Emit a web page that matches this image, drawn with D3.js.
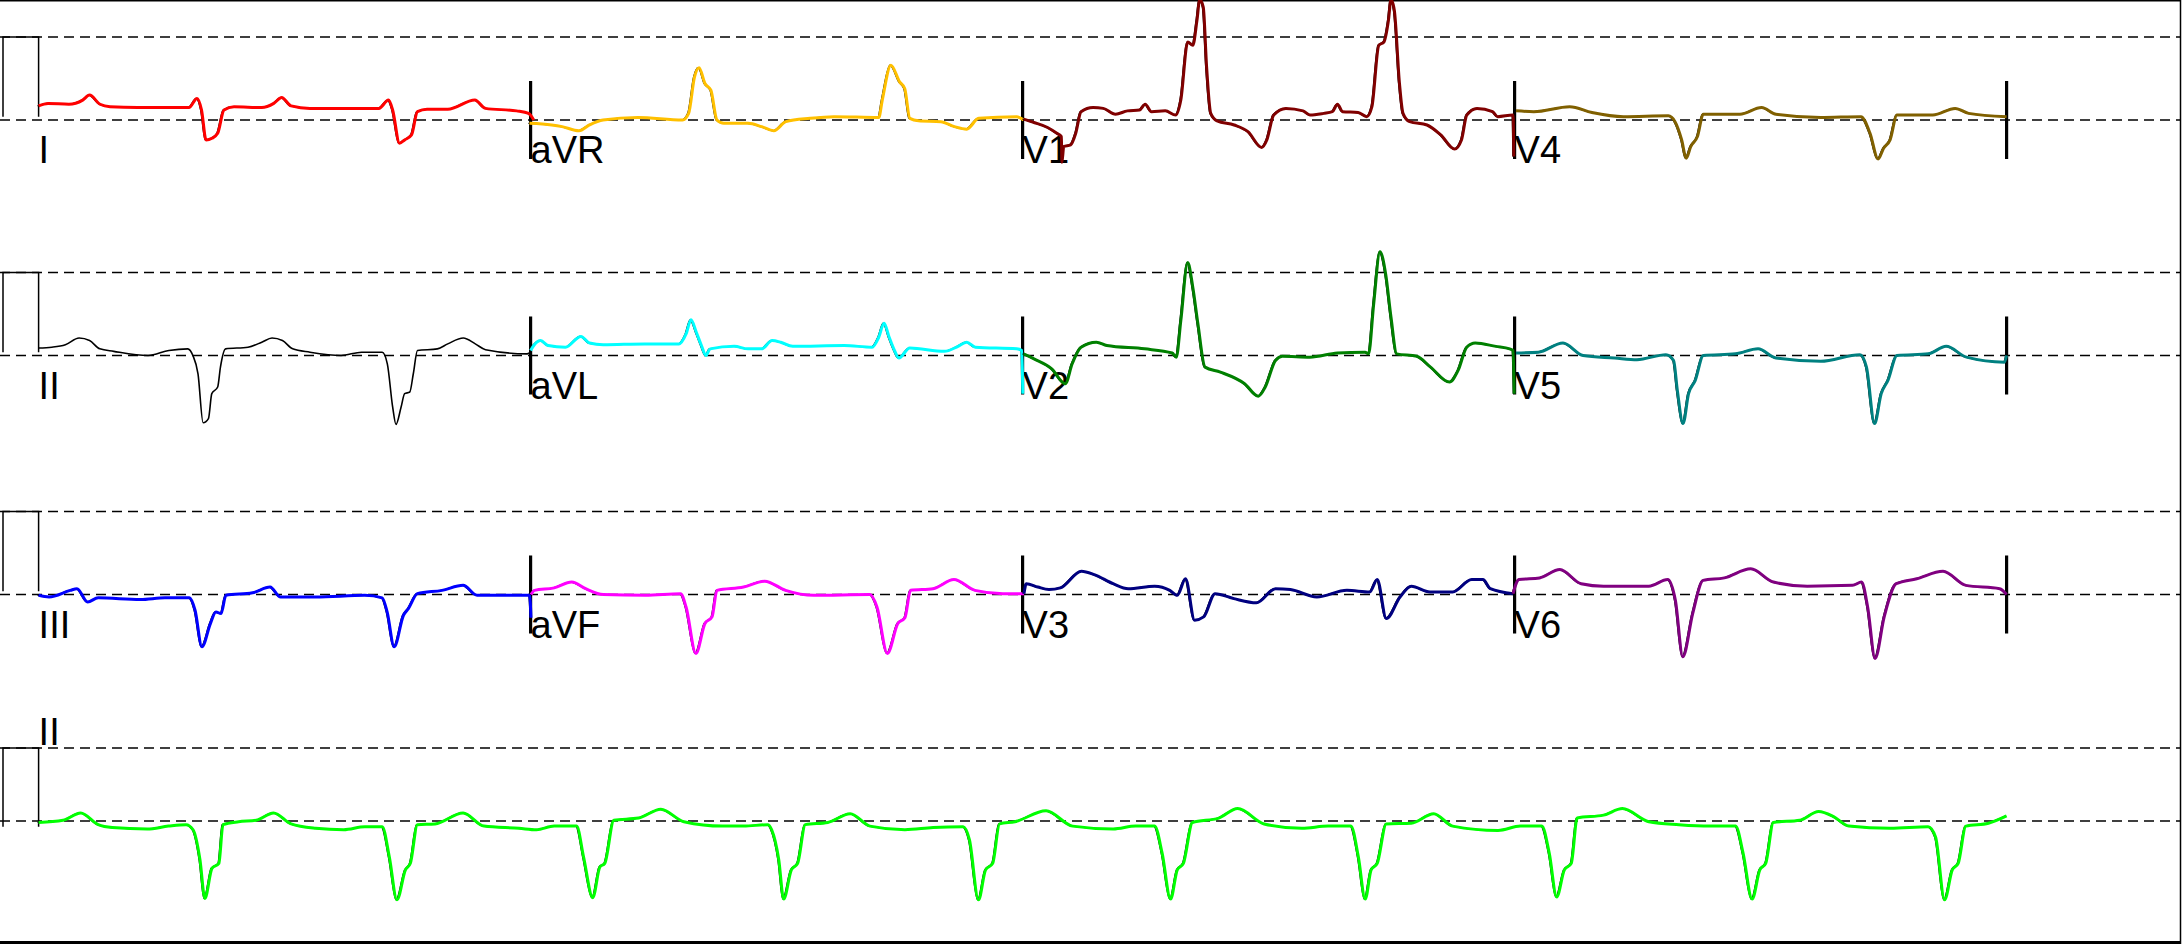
<!DOCTYPE html>
<html>
<head>
<meta charset="utf-8">
<script src="https://cdn.jsdelivr.net/npm/d3@7"></script>
<style>
  html, body { margin: 0; padding: 0; background: #fff; }
  svg { display: block; }
</style>
</head>
<body>
<svg id="chart" width="2183" height="944"></svg>
<script>
// lead layout: three rows of four 2.5 s segments, then a 10 s rhythm strip
const rowLeads = [
  ["I", "aVR", "V1", "V4"],
  ["II", "aVL", "V2", "V5"],
  ["III", "aVF", "V3", "V6"]
];
const rhythmLead = "II";

// traces as [time (s), amplitude (mV)]
const leadI = [[0,0.17],[0.048,0.2],[0.154,0.19],[0.224,0.24],[0.259,0.3],[0.312,0.19],[0.363,0.16],[0.504,0.15],[0.764,0.15],[0.805,0.26],[0.828,0.12],[0.851,-0.24],[0.881,-0.22],[0.910,-0.16],[0.942,0.12],[0.993,0.16],[1.134,0.15],[1.195,0.2],[1.235,0.27],[1.283,0.17],[1.379,0.14],[1.729,0.14],[1.778,0.24],[1.799,0.12],[1.834,-0.28],[1.860,-0.24],[1.895,-0.18],[1.925,0.1],[1.974,0.13],[2.079,0.13],[2.217,0.24],[2.271,0.14],[2.429,0.11],[2.490,0.08],[2.516,0.0]];
const leadAVR = [[2.494,-0.04],[2.607,-0.06],[2.660,-0.08],[2.746,-0.13],[2.799,-0.06],[2.868,0],[3.045,0.03],[3.272,0],[3.303,0.08],[3.333,0.52],[3.356,0.63],[3.386,0.44],[3.416,0.36],[3.447,0],[3.482,-0.04],[3.605,-0.04],[3.674,-0.08],[3.736,-0.13],[3.797,-0.02],[3.920,0.02],[4.042,0.04],[4.269,0.03],[4.287,0.24],[4.331,0.66],[4.375,0.46],[4.401,0.38],[4.427,0.02],[4.471,-0.01],[4.584,-0.02],[4.654,-0.08],[4.716,-0.11],[4.777,0.02],[4.970,0.04],[5.005,0]];
const leadV1 = [[5.005,0.01],[5.058,-0.03],[5.127,-0.09],[5.174,-0.16],[5.197,-0.2],[5.200,-0.51],[5.209,-0.32],[5.244,-0.3],[5.270,-0.16],[5.297,0.1],[5.358,0.15],[5.410,0.14],[5.472,0.07],[5.533,0.11],[5.594,0.12],[5.623,0.19],[5.655,0.1],[5.725,0.11],[5.778,0.06],[5.804,0.24],[5.839,0.94],[5.865,0.9],[5.886,1.2],[5.900,1.45],[5.918,1.36],[5.935,0.64],[5.956,0.08],[5.988,-0.01],[6.075,-0.06],[6.145,-0.14],[6.215,-0.33],[6.241,-0.24],[6.276,0.06],[6.338,0.14],[6.425,0.11],[6.460,0.06],[6.530,0.08],[6.574,0.1],[6.600,0.19],[6.626,0.1],[6.705,0.09],[6.749,0.04],[6.775,0.16],[6.810,0.9],[6.836,0.94],[6.859,1.2],[6.872,1.45],[6.889,1.32],[6.915,0.44],[6.933,0.08],[6.967,-0.02],[7.055,-0.06],[7.125,-0.18],[7.195,-0.35],[7.230,-0.24],[7.257,0.06],[7.309,0.14],[7.388,0.1],[7.414,0.04],[7.492,0.06],[7.496,-0.44]];
const leadV4 = [[7.507,0.11],[7.598,0.1],[7.780,0.16],[7.893,0.09],[8.053,0.04],[8.281,0.05],[8.315,-0.02],[8.349,-0.24],[8.372,-0.46],[8.395,-0.32],[8.429,-0.2],[8.459,0.07],[8.645,0.07],[8.755,0.15],[8.828,0.07],[9.055,0.03],[9.260,0.04],[9.306,-0.16],[9.347,-0.47],[9.375,-0.34],[9.408,-0.24],[9.443,0.06],[9.625,0.06],[9.739,0.14],[9.807,0.08],[10.0,0.04]];

const leadII = [[0,0.09],[0.067,0.1],[0.136,0.13],[0.206,0.21],[0.259,0.18],[0.311,0.08],[0.382,0.05],[0.556,0],[0.662,0.06],[0.758,0.08],[0.784,0],[0.810,-0.22],[0.836,-0.81],[0.863,-0.76],[0.880,-0.46],[0.910,-0.38],[0.924,-0.14],[0.950,0.08],[1.064,0.1],[1.134,0.16],[1.186,0.21],[1.239,0.18],[1.291,0.08],[1.379,0.04],[1.537,0],[1.641,0.04],[1.746,0.04],[1.772,-0.1],[1.799,-0.62],[1.816,-0.83],[1.842,-0.62],[1.860,-0.46],[1.886,-0.44],[1.904,-0.22],[1.925,0.06],[2.026,0.08],[2.079,0.14],[2.158,0.21],[2.219,0.14],[2.271,0.07],[2.482,0.02],[2.494,0.03]];
const leadAVL = [[2.500,0.06],[2.519,0.13],[2.551,0.18],[2.589,0.12],[2.677,0.1],[2.756,0.23],[2.799,0.15],[2.869,0.13],[3.079,0.14],[3.254,0.14],[3.290,0.26],[3.315,0.43],[3.342,0.28],[3.368,0.12],[3.391,0],[3.412,0.08],[3.535,0.11],[3.605,0.08],[3.674,0.08],[3.727,0.18],[3.771,0.16],[3.832,0.11],[4.094,0.12],[4.235,0.1],[4.269,0.22],[4.296,0.39],[4.322,0.22],[4.349,0.06],[4.371,-0.03],[4.427,0.09],[4.602,0.05],[4.672,0.11],[4.716,0.16],[4.760,0.1],[4.970,0.08],[4.996,0.06],[5.001,-0.46]];
const leadV2 = [[5.005,0.02],[5.058,-0.04],[5.148,-0.16],[5.217,-0.34],[5.252,-0.1],[5.297,0.1],[5.375,0.16],[5.428,0.12],[5.620,0.08],[5.760,0.03],[5.781,-0.02],[5.804,0.42],[5.839,1.12],[5.865,0.82],[5.891,0.38],[5.927,-0.14],[6.005,-0.2],[6.128,-0.34],[6.198,-0.49],[6.233,-0.38],[6.285,-0.06],[6.320,-0.01],[6.460,-0.02],[6.600,0.03],[6.740,0.04],[6.758,0.02],[6.784,0.62],[6.816,1.25],[6.845,0.98],[6.872,0.46],[6.901,0.02],[7.003,-0.01],[7.073,-0.14],[7.169,-0.32],[7.213,-0.18],[7.257,0.1],[7.300,0.15],[7.405,0.11],[7.475,0.08],[7.492,0.06],[7.498,-0.46]];
const leadV5 = [[7.507,0.03],[7.620,0.04],[7.746,0.15],[7.848,0],[8.008,-0.03],[8.122,-0.05],[8.269,0.01],[8.308,-0.06],[8.327,-0.42],[8.356,-0.82],[8.384,-0.46],[8.418,-0.3],[8.459,0],[8.622,0.02],[8.737,0.08],[8.828,-0.03],[9.055,-0.07],[9.255,0.01],[9.288,-0.14],[9.329,-0.82],[9.363,-0.46],[9.397,-0.3],[9.443,0],[9.602,0.02],[9.693,0.11],[9.796,-0.02],[9.989,-0.08],[10.0,0]];

const leadIII = [[0,-0.01],[0.053,-0.03],[0.161,0.05],[0.195,0.07],[0.249,-0.09],[0.303,-0.04],[0.517,-0.06],[0.642,-0.04],[0.766,-0.04],[0.795,-0.19],[0.830,-0.63],[0.873,-0.35],[0.901,-0.21],[0.927,-0.23],[0.952,-0.01],[1.087,0.02],[1.176,0.09],[1.230,-0.03],[1.408,-0.03],[1.658,-0.01],[1.746,-0.04],[1.771,-0.21],[1.807,-0.63],[1.854,-0.25],[1.879,-0.17],[1.925,0.01],[2.050,0.05],[2.157,0.11],[2.228,-0.01],[2.370,-0.01],[2.495,-0.01],[2.502,-0.28]];
const leadAVF = [[2.502,0.0],[2.520,0.05],[2.620,0.08],[2.709,0.15],[2.780,0.07],[2.869,0],[3.083,-0.01],[3.262,0.01],[3.290,-0.15],[3.340,-0.71],[3.386,-0.35],[3.422,-0.27],[3.447,0.05],[3.582,0.09],[3.689,0.16],[3.796,0.05],[3.939,-0.01],[4.224,0],[4.260,-0.15],[4.313,-0.71],[4.366,-0.35],[4.402,-0.28],[4.431,0.05],[4.545,0.07],[4.651,0.18],[4.758,0.05],[4.900,0.01],[5.007,0.01]];
const leadV3 = [[5.007,0.01],[5.019,0.13],[5.077,0.09],[5.134,0.06],[5.192,0.08],[5.299,0.28],[5.364,0.24],[5.460,0.13],[5.537,0.07],[5.671,0.1],[5.748,0.05],[5.786,-0.01],[5.828,0.19],[5.874,-0.31],[5.920,-0.27],[5.978,0.01],[6.074,-0.05],[6.188,-0.1],[6.285,0.07],[6.361,0.06],[6.495,-0.03],[6.648,0.05],[6.764,0.03],[6.802,0.18],[6.848,-0.29],[6.918,-0.03],[6.975,0.1],[7.070,0.03],[7.185,0.03],[7.282,0.18],[7.339,0.18],[7.377,0.07],[7.492,0.01]];
const leadV6 = [[7.492,0.01],[7.522,0.18],[7.627,0.2],[7.730,0.3],[7.838,0.13],[7.952,0.1],[8.182,0.1],[8.278,0.18],[8.317,-0.07],[8.355,-0.75],[8.405,-0.23],[8.458,0.17],[8.566,0.2],[8.700,0.31],[8.815,0.15],[8.987,0.1],[9.217,0.11],[9.263,0.15],[9.294,-0.15],[9.332,-0.77],[9.378,-0.27],[9.439,0.13],[9.543,0.19],[9.677,0.28],[9.793,0.11],[9.965,0.07],[10.0,0]];

const rhythmII = [[0,-0.02],[0.124,0.01],[0.214,0.11],[0.303,-0.05],[0.374,-0.09],[0.552,-0.11],[0.660,-0.07],[0.749,-0.05],[0.785,-0.12],[0.820,-0.53],[0.845,-1.06],[0.881,-0.65],[0.916,-0.58],[0.937,-0.05],[1.016,-0.01],[1.105,0.01],[1.194,0.11],[1.283,-0.04],[1.408,-0.1],[1.550,-0.12],[1.658,-0.08],[1.746,-0.08],[1.782,-0.49],[1.821,-1.08],[1.864,-0.67],[1.889,-0.58],[1.925,-0.05],[2.014,-0.04],[2.157,0.11],[2.263,-0.07],[2.441,-0.1],[2.530,-0.12],[2.620,-0.07],[2.734,-0.07],[2.769,-0.49],[2.816,-1.05],[2.852,-0.63],[2.877,-0.58],[2.923,0.01],[3.048,0.04],[3.162,0.16],[3.279,-0.01],[3.475,-0.07],[3.582,-0.07],[3.707,-0.05],[3.725,-0.12],[3.761,-0.53],[3.786,-1.07],[3.825,-0.67],[3.857,-0.58],[3.896,-0.05],[4.010,-0.02],[4.124,0.1],[4.224,-0.07],[4.402,-0.12],[4.545,-0.09],[4.698,-0.08],[4.730,-0.26],[4.776,-1.08],[4.812,-0.67],[4.848,-0.58],[4.883,-0.04],[4.961,-0.01],[5.119,0.14],[5.254,-0.07],[5.460,-0.11],[5.575,-0.07],[5.671,-0.07],[5.709,-0.44],[5.752,-1.07],[5.786,-0.67],[5.817,-0.58],[5.863,-0.02],[5.997,0.04],[6.093,0.17],[6.227,-0.04],[6.419,-0.1],[6.553,-0.07],[6.668,-0.07],[6.706,-0.49],[6.741,-1.07],[6.771,-0.67],[6.802,-0.58],[6.848,-0.04],[6.975,-0.03],[7.089,0.1],[7.185,-0.07],[7.416,-0.13],[7.530,-0.07],[7.638,-0.07],[7.676,-0.44],[7.714,-1.04],[7.753,-0.67],[7.788,-0.58],[7.818,0.04],[7.952,0.08],[8.048,0.17],[8.182,-0.01],[8.335,-0.05],[8.489,-0.07],[8.623,-0.07],[8.661,-0.44],[8.707,-1.07],[8.746,-0.67],[8.776,-0.58],[8.815,-0.02],[8.949,0.01],[9.045,0.13],[9.121,0.06],[9.198,-0.07],[9.409,-0.1],[9.601,-0.08],[9.639,-0.22],[9.685,-1.08],[9.724,-0.67],[9.754,-0.58],[9.793,-0.07],[9.908,-0.03],[10.0,0.07]];

const leadData = {
  I: leadI, aVR: leadAVR, V1: leadV1, V4: leadV4,
  II: leadII, aVL: leadAVL, V2: leadV2, V5: leadV5,
  III: leadIII, aVF: leadAVF, V3: leadV3, V6: leadV6
};

const leadColor = {
  I: "#ff0000", aVR: "#ffc000", V1: "#800000", V4: "#806000",
  II: "#000000", aVL: "#00ffff", V2: "#008000", V5: "#008080",
  III: "#0000ff", aVF: "#ff00ff", V3: "#000080", V6: "#800080"
};
const rhythmColor = "#00ff00";

// page geometry
const rowBase = [120, 355.5, 594.5, 821];   // 0 mV line of each row
const rowMv = [83, 83, 83, 73];             // pixels per mV
const segSec = 2.5;

const svg = d3.select("#chart");
const x = d3.scaleLinear().domain([0, 10]).range([38.6, 2006.6]);
const yRow = rowBase.map((b, i) => d3.scaleLinear().domain([0, 1]).range([b, b - rowMv[i]]));

// frame
svg.append("line").attr("x1", 0).attr("x2", 2181).attr("y1", 0.75).attr("y2", 0.75)
  .attr("stroke", "#000").attr("stroke-width", 1.5);
svg.append("line").attr("x1", 2180.5).attr("x2", 2180.5).attr("y1", 0).attr("y2", 944)
  .attr("stroke", "#000").attr("stroke-width", 1.5);
svg.append("line").attr("x1", 0).attr("x2", 2181).attr("y1", 942.5).attr("y2", 942.5)
  .attr("stroke", "#000").attr("stroke-width", 3);

// dashed 0 mV and 1 mV reference lines
yRow.forEach(y => {
  [0, 1].forEach(v => {
    svg.append("line")
      .attr("x1", 0).attr("x2", 2180)
      .attr("y1", y(v)).attr("y2", y(v))
      .attr("stroke", "#000").attr("stroke-width", 1.5)
      .attr("stroke-dasharray", "10,6");
  });
});

// 1 mV calibration pulses
const pulseFoot = [0.04, 0.04, 0.04, -0.08];
yRow.forEach((y, i) => {
  const p = d3.path();
  p.moveTo(3, y(pulseFoot[i]));
  p.lineTo(3, y(1));
  p.lineTo(x(0), y(1));
  p.lineTo(x(0), y(pulseFoot[i]));
  svg.append("path").attr("d", p.toString())
    .attr("fill", "none").attr("stroke", "#000").attr("stroke-width", 1.5);
});

// lead labels
const font = "'Liberation Sans', Arial, sans-serif";
rowLeads.forEach((leads, r) => {
  leads.forEach((name, c) => {
    svg.append("text")
      .attr("x", x(c * segSec)).attr("y", rowBase[r] + 43)
      .attr("font-family", font).attr("font-size", 38)
      .attr("fill", "#000")
      .text(name);
  });
});
svg.append("text")
  .attr("x", x(0)).attr("y", yRow[3](1) - 3)
  .attr("font-family", font).attr("font-size", 38)
  .attr("fill", "#000")
  .text(rhythmLead);

// lead separator bars
rowLeads.forEach((leads, r) => {
  for (let c = 1; c <= 4; c++) {
    svg.append("line")
      .attr("x1", x(c * segSec)).attr("x2", x(c * segSec))
      .attr("y1", yRow[r](0.47)).attr("y2", yRow[r](-0.47))
      .attr("stroke", "#000").attr("stroke-width", 3.2);
  }
});

// traces: thin black pass underneath, coloured pass on top
rowLeads.forEach((leads, r) => {
  const line = d3.line().curve(d3.curveMonotoneX)
    .x(d => x(d[0])).y(d => yRow[r](d[1]));
  leads.forEach(name => {
    const data = leadData[name];
    const black = name === "II";
    svg.append("path").datum(data)
      .attr("d", line)
      .attr("transform", black ? null : "translate(-1,0)")
      .attr("fill", "none").attr("stroke", "#000")
      .attr("stroke-width", black ? 1.6 : 1.2)
      .attr("stroke-linejoin", "round");
    if (!black) {
      svg.append("path").datum(data)
        .attr("d", line)
        .attr("fill", "none").attr("stroke", leadColor[name])
        .attr("stroke-width", 3)
        .attr("stroke-linejoin", "round");
    }
  });
});

const rLine = d3.line().curve(d3.curveMonotoneX)
  .x(d => x(d[0])).y(d => yRow[3](d[1]));
svg.append("path").datum(rhythmII)
  .attr("d", rLine).attr("transform", "translate(-1,0)")
  .attr("fill", "none").attr("stroke", "#000").attr("stroke-width", 1.2);
svg.append("path").datum(rhythmII)
  .attr("d", rLine)
  .attr("fill", "none").attr("stroke", rhythmColor)
  .attr("stroke-width", 3).attr("stroke-linejoin", "round");
</script>
</body>
</html>
